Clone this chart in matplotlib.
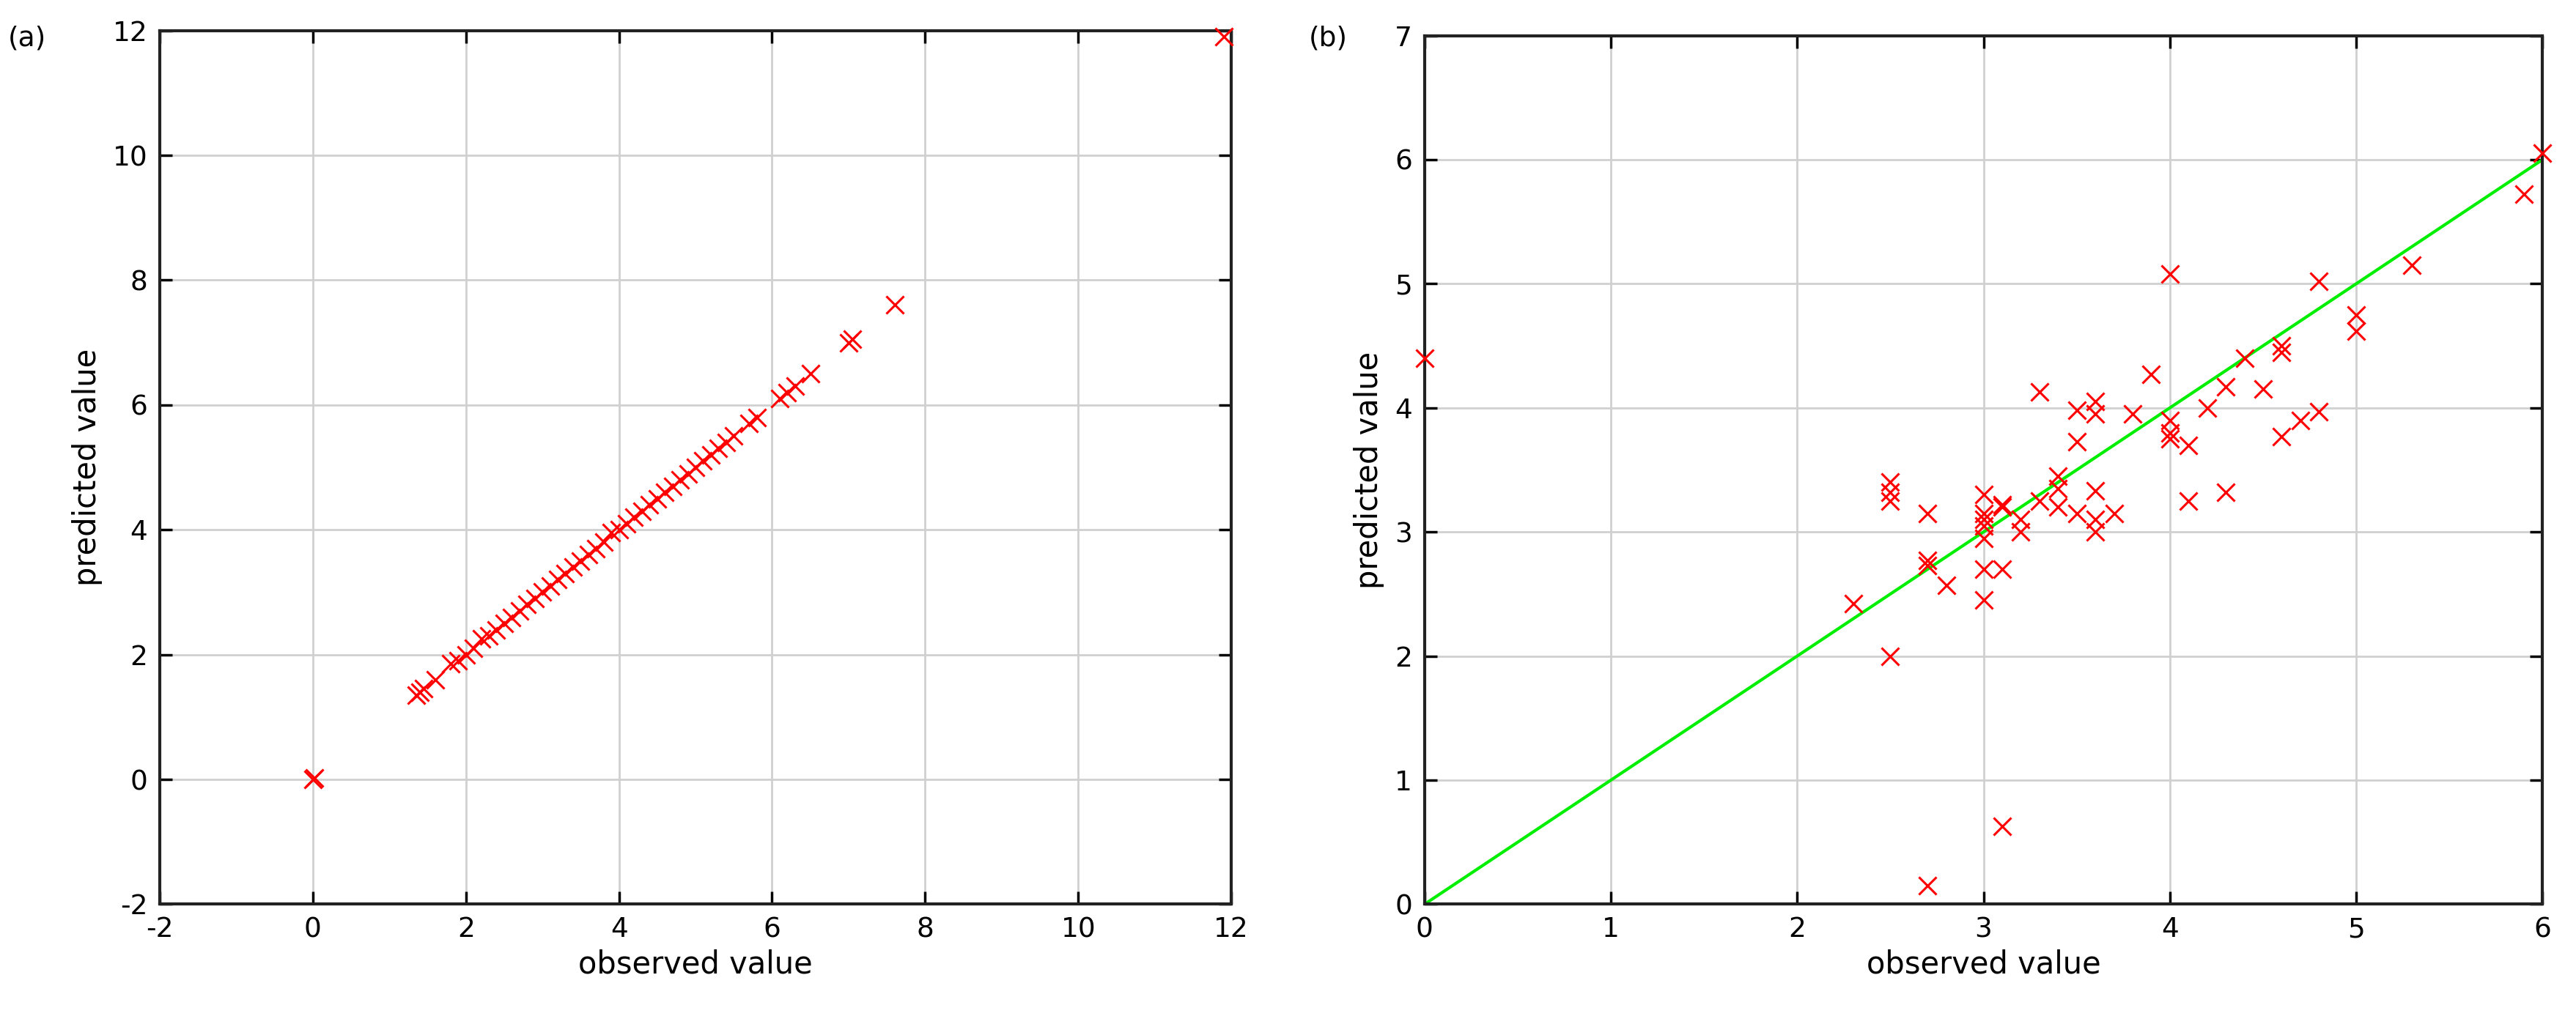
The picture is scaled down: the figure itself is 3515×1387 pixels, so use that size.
import matplotlib
matplotlib.use('Agg')
import matplotlib.pyplot as plt

plt.rcParams['axes.unicode_minus'] = False

# panel (a): training fit
obs_a = [0.0, 0.02, 1.35, 1.4, 1.45, 1.6, 1.8, 1.9, 2.0, 2.1, 2.2, 2.3, 2.4, 2.5, 2.6, 2.7,
         2.8, 2.9, 3.0, 3.1, 3.2, 3.3, 3.4, 3.5, 3.6, 3.7, 3.8, 3.9, 4.0, 4.1, 4.2, 4.3,
         4.4, 4.5, 4.6, 4.7, 4.8, 4.9, 5.0, 5.1, 5.2, 5.3, 5.4, 5.5, 5.7, 5.8, 6.1, 6.2,
         6.3, 6.5, 7.0, 7.05, 7.6, 11.9]
pred_a = [0.0, 0.02, 1.35, 1.4, 1.45, 1.6, 1.85, 1.9, 2.0, 2.1, 2.25, 2.3, 2.4, 2.5, 2.6, 2.7,
          2.8, 2.9, 3.0, 3.1, 3.2, 3.3, 3.4, 3.5, 3.6, 3.7, 3.8, 3.95, 4.0, 4.1, 4.2, 4.3,
          4.4, 4.5, 4.6, 4.7, 4.8, 4.9, 5.0, 5.1, 5.2, 5.3, 5.4, 5.5, 5.7, 5.8, 6.1, 6.2,
          6.3, 6.5, 7.0, 7.05, 7.6, 11.9]

# panel (b): test predictions
obs_b = [0.0, 2.3, 2.5, 2.5, 2.5, 2.5, 2.7, 2.7, 2.7, 2.7, 2.8, 3.0, 3.0, 3.0, 3.0, 3.0,
         3.0, 3.0, 3.1, 3.1, 3.1, 3.1, 3.2, 3.2, 3.3, 3.3, 3.4, 3.4, 3.4, 3.5, 3.5, 3.5,
         3.6, 3.6, 3.6, 3.6, 3.6, 3.7, 3.8, 3.9, 4.0, 4.0, 4.0, 4.0, 4.1, 4.1, 4.2, 4.3,
         4.3, 4.4, 4.5, 4.6, 4.6, 4.6, 4.7, 4.8, 4.8, 5.0, 5.0, 5.3, 5.9, 6.0]
pred_b = [4.4, 2.42, 3.4, 3.32, 3.25, 2.0, 3.15, 2.77, 2.73, 0.15, 2.57, 3.3, 3.15, 3.1, 3.05, 2.95,
          2.7, 2.45, 3.2, 3.22, 2.7, 0.63, 3.0, 3.1, 4.13, 3.25, 3.45, 3.35, 3.2, 3.98, 3.73, 3.15,
          4.05, 3.95, 3.33, 3.1, 3.0, 3.15, 3.95, 4.27, 5.08, 3.9, 3.8, 3.75, 3.7, 3.25, 4.0, 4.17,
          3.32, 4.4, 4.15, 4.5, 4.45, 3.77, 3.9, 5.02, 3.97, 4.75, 4.62, 5.15, 5.72, 6.05]
ideal = [0, 6]

fs = 27
fig = plt.figure(figsize=(35.15, 13.87), dpi=100)
ax1 = fig.add_axes([0.062, 0.11, 0.416, 0.86])
ax2 = fig.add_axes([0.553, 0.11, 0.434, 0.855])

ax1.scatter(obs_a, pred_a, marker='x', color='red', s=300, linewidths=2.2, zorder=3, clip_on=False)
ax1.set_xlim(-2, 12)
ax1.set_ylim(-2, 12)
ax1.set_xticks(range(-2, 13, 2))
ax1.set_yticks(range(-2, 13, 2))

ax2.plot(ideal, ideal, color='#00ee00', lw=3, zorder=2)
ax2.scatter(obs_b, pred_b, marker='x', color='red', s=300, linewidths=2.2, zorder=3, clip_on=False)
ax2.set_xlim(0, 6)
ax2.set_ylim(0, 7)

for ax, lab, lx in [(ax1, '(a)', 0.003), (ax2, '(b)', 0.508)]:
    ax.grid(True, color='#d0d0d0', lw=2)
    ax.set_axisbelow(True)
    ax.tick_params(labelsize=fs, direction='in', length=12, width=2.5, top=True, right=True, pad=12)
    for sp in ax.spines.values():
        sp.set_linewidth(3)
        sp.set_color('#222222')
    ax.set_xlabel('observed value', fontsize=fs + 3, labelpad=6)
    ax.set_ylabel('predicted value', fontsize=fs + 3, labelpad=10)
    fig.text(lx, 0.975, lab, fontsize=fs, va='top')

fig.savefig('out.png')
